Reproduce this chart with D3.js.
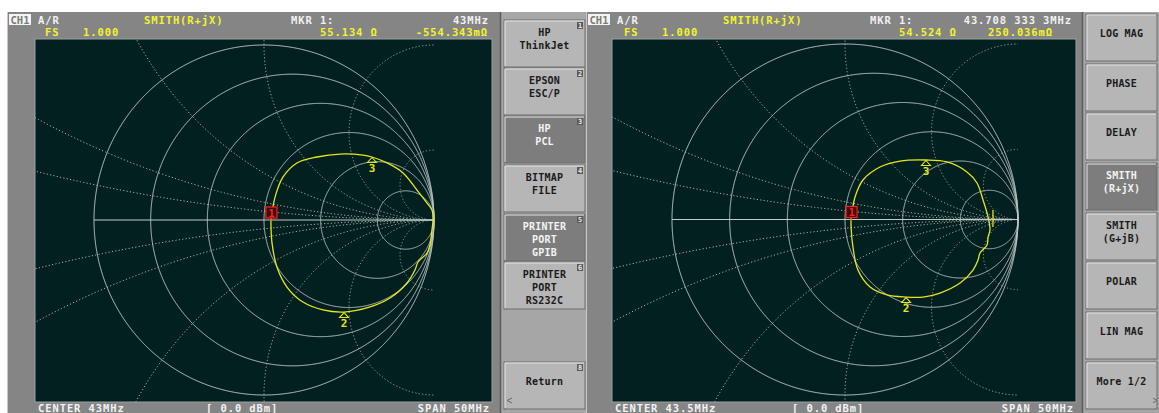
<!DOCTYPE html>
<html><head><meta charset="utf-8">
<script src="https://cdn.jsdelivr.net/npm/d3@7"></script>
<style>
html,body{margin:0;padding:0;background:#fff;}
svg{display:block;}
text{font-family:"DejaVu Sans Mono",monospace;font-weight:bold;}
</style></head><body>
<svg id="c" width="1159" height="413"></svg>
<script>
// Smith chart graticule (normalised impedance)
const resistanceValues = [0, 0.2, 0.5, 1, 2, 5];          // solid circles
const reactanceValues = [0.1, 0.2, 0.5, 1, 2, 5];         // dotted arcs (both signs)

// Trace A: reflection coefficient (re, im), centre 43 MHz
const traceARe = [0.041,0.065,0.112,0.194,0.312,0.447,0.582,0.635,0.724,0.818,0.900,0.959,0.988,0.994,0.988,0.976,0.959,0.906,0.888,0.841,0.741,0.624,0.471,0.347,0.229,0.135,0.076,0.047,0.041,0.041];
const traceAIm = [0.000,0.131,0.246,0.326,0.360,0.377,0.371,0.360,0.326,0.269,0.171,0.097,0.057,0.000,-0.057,-0.143,-0.189,-0.240,-0.286,-0.360,-0.446,-0.497,-0.526,-0.514,-0.469,-0.383,-0.269,-0.131,-0.029,0.000];
// Trace B: reflection coefficient (re, im), centre 43.5 MHz
const traceBRe = [0.035,0.058,0.104,0.202,0.318,0.468,0.590,0.705,0.763,0.798,0.827,0.838,0.827,0.821,0.780,0.769,0.740,0.665,0.549,0.451,0.353,0.243,0.145,0.075,0.046,0.035,0.035];
const traceBIm = [0.000,0.128,0.225,0.299,0.333,0.339,0.328,0.271,0.208,0.111,0.014,-0.060,-0.100,-0.145,-0.191,-0.231,-0.288,-0.362,-0.419,-0.442,-0.442,-0.430,-0.385,-0.288,-0.157,-0.043,0.000];
// sweep end segment of trace B
const traceBEndRe = [0.855,0.856,0.855];
const traceBEndIm = [0.054,0.000,-0.043];
// Marker positions (index into trace) and labels
const markerIdxA = [0, 22, 7];
const markerIdxB = [0, 20, 5];
const markerNames = ["1","2","3"];

// Annotation texts
const headerA = ["A/R","SMITH(R+jX)","MKR  1:","43MHz","FS","1.000","55.134 Ω","-554.343mΩ"];
const headerB = ["A/R","SMITH(R+jX)","MKR  1:","43.708 333 3MHz","FS","1.000","54.524 Ω","250.036mΩ"];
const footerA = ["CENTER 43MHz","[ 0.0 dBm]","SPAN 50MHz"];
const footerB = ["CENTER 43.5MHz","[ 0.0 dBm]","SPAN 50MHz"];
const printMenu = [["HP","ThinkJet"],["EPSON","ESC/P"],["HP","PCL"],["BITMAP","FILE"],["PRINTER","PORT","GPIB"],["PRINTER","PORT","RS232C"],["Return"]];
const printMenuSel = [false,false,true,false,true,false,false];
const printMenuNum = ["1","2","3","4","5","6","8"];
const formatMenu = [["LOG MAG"],["PHASE"],["DELAY"],["SMITH","(R+jX)"],["SMITH","(G+jB)"],["POLAR"],["LIN MAG"],["More 1/2"]];
const formatMenuSel = [false,false,false,true,false,false,false,false];

const svg = d3.select("#c");
const C = {
  screen:"#858585", plot:"#01201f", grid:"#c4cbca", dot:"#a9b3b2",
  yellow:"#f4f42a", white:"#f2f2f2", trace:"#e6e61e", red:"#ff1e1e",
  menuBg:"#a6a6a6", btn:"#b6b6b6", btnSel:"#7d7d7d", btnText:"#1a1a1a"
};

function drawScreen(g, L, header, footer, re, im, mIdx, endRe, endIm) {
  // screen frame
  g.append("rect").attr("x",L.x0).attr("y",12).attr("width",L.x1-L.x0).attr("height",401).attr("fill",C.screen);
  g.append("line").attr("x1",L.x0+0.5).attr("x2",L.x0+0.5).attr("y1",12).attr("y2",413).attr("stroke","#c8c8c8");
  g.append("rect").attr("x",L.px0).attr("y",L.py0).attr("width",L.px1-L.px0).attr("height",L.py1-L.py0)
    .attr("fill",C.plot).attr("stroke","#9aa3a2").attr("stroke-width",1);

  // header
  g.append("rect").attr("x",L.x0+2).attr("y",14).attr("width",22).attr("height",11).attr("fill","#f4f4f4");
  g.append("text").attr("x",L.x0+13).attr("y",24).attr("text-anchor","middle").attr("font-size",10.5)
    .attr("fill","#7a7a7a").text("CH1");
  const t = (x,y,s,col,anchor) => g.append("text").attr("x",x).attr("y",y).attr("font-size",10.5)
      .attr("letter-spacing",0.9).attr("fill",col).attr("text-anchor",anchor||"start").text(s);
  t(L.x0+31,24,header[0],C.white);
  t(L.x0+137,24,header[1],C.yellow);
  t(L.x0+284,24,header[2],C.white);
  t(L.hx,24,header[3],C.white,"end");
  t(L.x0+38,36,header[4],C.yellow);
  t(L.x0+76,36,header[5],C.yellow);
  t(L.x0+313,36,header[6],C.yellow);
  t(L.hx2,36,header[7],C.yellow,"end");
  // footer
  t(L.px0+3,411.5,footer[0],C.white);
  t(L.fm,411.5,footer[1],C.white);
  t(L.px1-2,411.5,footer[2],C.white,"end");

  // Smith chart scales: reflection coefficient -> pixels
  const sx = d3.scaleLinear().domain([-1,1]).range([L.cx-L.Rx, L.cx+L.Rx]);
  const sy = d3.scaleLinear().domain([-1,1]).range([L.cy+L.Ry, L.cy-L.Ry]);
  const line = d3.line().x(d=>sx(d[0])).y(d=>sy(d[1]));
  const circle = (cx, cy, r) => line(d3.range(1441).map(i => {
    const a = 2*Math.PI*i/1440; return [cx + r*Math.cos(a), cy + r*Math.sin(a)];
  }));

  const clipId = "clip"+L.id;
  g.append("clipPath").attr("id",clipId).append("rect")
    .attr("x",L.px0).attr("y",L.py0).attr("width",sx(1)-L.px0).attr("height",L.py1-L.py0);
  const grid = g.append("g");
  // constant reactance arcs (dotted, continued past the unit circle)
  const dots = grid.append("g").attr("clip-path",`url(#${clipId})`);
  reactanceValues.forEach(x => {
    [x,-x].forEach(v => {
      dots.append("path").attr("d",circle(1, 1/v, 1/Math.abs(v)))
        .attr("fill","none").attr("stroke",C.dot).attr("stroke-width",1).attr("stroke-dasharray","1.2 2.2");
    });
  });
  // constant resistance circles
  resistanceValues.forEach(r => {
    grid.append("path").attr("d",circle(r/(1+r), 0, 1/(1+r)))
      .attr("fill","none").attr("stroke",C.grid).attr("stroke-width",1);
  });
  grid.append("path").attr("d",line([[-1,0],[1,0]])).attr("stroke",C.grid).attr("stroke-width",1);

  // trace
  const curve = d3.line().x(d=>sx(d[0])).y(d=>sy(d[1])).curve(d3.curveCatmullRom.alpha(0.5));
  const pts = re.map((v,i)=>[v,im[i]]);
  g.append("path").attr("d",curve(pts)).attr("fill","none").attr("stroke",C.trace).attr("stroke-width",1.3);
  if (endRe) {
    g.append("path").attr("d",curve(endRe.map((v,i)=>[v,endIm[i]]))).attr("fill","none")
      .attr("stroke",C.trace).attr("stroke-width",1.3);
  }

  // markers
  mIdx.forEach((idx,j) => {
    const X = sx(re[idx]), Y = sy(im[idx]);
    if (j===0) {
      g.append("line").attr("x1",X).attr("x2",X).attr("y1",Y-2).attr("y2",Y+1).attr("stroke",C.red);
      g.append("rect").attr("x",X-5).attr("y",Y-13).attr("width",11).attr("height",11)
        .attr("fill","#3c0c0c").attr("stroke",C.red).attr("stroke-width",1.2);
      g.append("text").attr("x",X+0.5).attr("y",Y-3.5).attr("text-anchor","middle").attr("font-size",10.5)
        .attr("fill",C.red).text(markerNames[j]);
    } else {
      g.append("path").attr("d",`M${X},${Y+0.5} L${X+4.5},${Y+5.5} L${X-4.5},${Y+5.5} Z`)
        .attr("fill","none").attr("stroke",C.trace).attr("stroke-width",1.1);
      g.append("text").attr("x",X).attr("y",Y+14.5).attr("text-anchor","middle").attr("font-size",11)
        .attr("fill",C.trace).text(markerNames[j]);
    }
  });
}

function drawMenu(g, x0, x1, top, items, sel, nums, corner) {
  g.append("rect").attr("x",x0).attr("y",12).attr("width",x1-x0).attr("height",401).attr("fill",C.menuBg);
  g.append("line").attr("x1",x0+0.5).attr("x2",x0+0.5).attr("y1",12).attr("y2",413).attr("stroke","#5c5c5c").attr("stroke-width",1.5);
  items.forEach((lines,i) => {
    const y = top[i], h = 47;
    const bx = x0+4, bw = x1-x0-6;
    g.append("rect").attr("x",bx).attr("y",y).attr("width",bw).attr("height",h)
      .attr("fill",sel[i]?C.btnSel:C.btn).attr("stroke","#6e6e6e").attr("stroke-width",1);
    g.append("path").attr("d",`M${bx+1},${y+h-1} V${y+1} H${bx+bw-1}`).attr("fill","none").attr("stroke","#e4e4e4");
    const n = lines.length;
    const first = n===1 ? y+23 : y+16;
    lines.forEach((s,j) => {
      g.append("text").attr("x",bx+bw/2).attr("y",first+j*13).attr("text-anchor","middle")
        .attr("font-size",10).attr("letter-spacing",0.2).attr("fill",sel[i]?"#f4f4f4":C.btnText).text(s);
    });
    if (nums) {
      g.append("rect").attr("x",bx+bw-8).attr("y",y+2).attr("width",6).attr("height",7).attr("fill","#5a5a5a");
      g.append("text").attr("x",bx+bw-5).attr("y",y+8).attr("text-anchor","middle").attr("font-size",7)
        .attr("fill","#e8e8e8").text(nums[i]);
    }
  });
  if (corner) {
    const i = items.length-1, y = top[i];
    const d = corner==="left"
      ? `M${x0+12},${y+36} L${x0+7},${y+38.5} L${x0+12},${y+41}`
      : `M${x1-6},${y+36} L${x1-2},${y+38.5} L${x1-6},${y+41}`;
    g.append("path").attr("d",d).attr("fill","none").attr("stroke","#666").attr("stroke-width",1);
  }
}

drawScreen(svg.append("g"), {id:"A",x0:7,x1:500,px0:35,py0:39,px1:492,py1:402,cx:264,cy:220,Rx:170,Ry:175,hx:489,hx2:488,fm:206},
  headerA, footerA, traceARe, traceAIm, markerIdxA);
drawMenu(svg.append("g"), 500, 587, [20,68,116,165,214,262,362], printMenu, printMenuSel, printMenuNum, "left");
drawScreen(svg.append("g"), {id:"B",x0:586,x1:1082,px0:612,py0:39,px1:1076,py1:402,cx:845,cy:219.5,Rx:173,Ry:175.5,hx:1072,hx2:1053,fm:792},
  headerB, footerB, traceBRe, traceBIm, markerIdxB, traceBEndRe, traceBEndIm);
drawMenu(svg.append("g"), 1082, 1159, [14,64,113,163,213,262,312,362], formatMenu, formatMenuSel, null, "right");
</script>
</body></html>
